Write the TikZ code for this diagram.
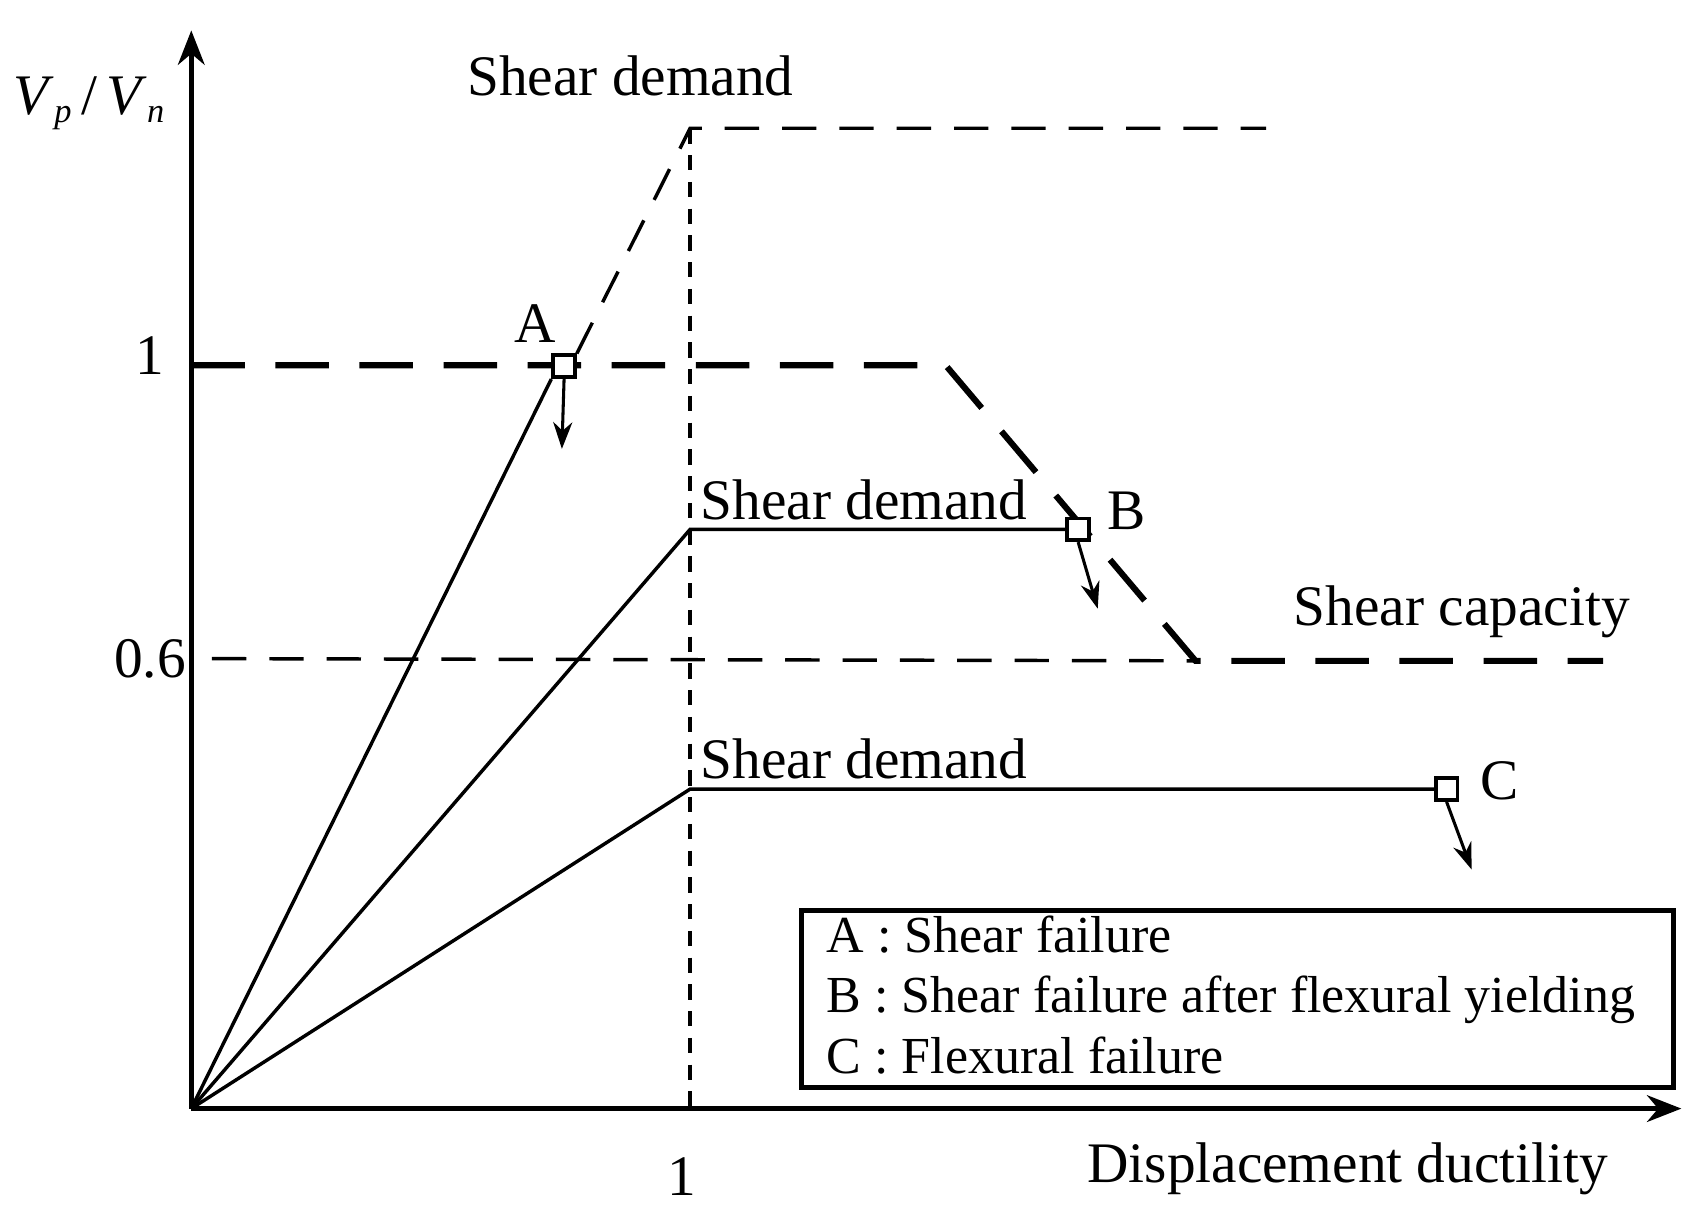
\documentclass[tikz,border=0pt]{standalone}
\usepackage{fontspec}
\setmainfont{Liberation Serif}
\usetikzlibrary{arrows.meta}
\begin{document}
\begin{tikzpicture}[x=0.01cm,y=-0.01cm,
 lbl/.style={font=\fontsize{15}{17}\selectfont,inner sep=0pt},
 leglbl/.style={font=\fontsize{13.6}{15}\selectfont,inner sep=0pt,anchor=base west},
 sq/.style={draw,fill=white,minimum size=0.2cm,inner sep=0pt,line width=1pt},
 ar/.style={-{Stealth[length=7pt,width=5pt]},line width=0.8pt},
 thin/.style={line width=0.9pt}]
\useasboundingbox (0,0) rectangle (1566,1117);
\coordinate (O) at (176,1020);
\coordinate (Ytop) at (176,28);
\coordinate (Xend) at (1547,1020);
\draw[line width=1.2pt,-{Stealth[length=9pt,width=7pt]}] (O) -- (Ytop);
\draw[line width=1.2pt,-{Stealth[length=9pt,width=7pt]}] (O) -- (Xend);
\node[lbl] (vp) at (82,95) {\textit{V}\raisebox{-0.3ex}{\small\textit{p}}\,/\,\textit{V}\raisebox{-0.3ex}{\small\textit{n}}};
\node[lbl] (y1) at (138,327) {1};
\node[lbl] (y06) at (138,606) {0.6};
\node[lbl] (x1) at (627,1083) {1};
\node[lbl] (xl) at (1240,1075) {Displacement ductility};
\coordinate (d1) at (635,118);
\coordinate (d0) at (635,1020);
\draw[thin,dash pattern=on 4pt off 3pt] (d1) -- (d0);
% capacity
\coordinate (c0) at (176,336); \coordinate (c1) at (870,336);
\coordinate (c2) at (1100,608); \coordinate (c3) at (1475,608);
\draw[line width=1.6pt,dash pattern=on 14pt off 8pt] (c0) -- (c1) -- (c2) -- (c3);
\coordinate (t0) at (195,606);
\draw[thin,dash pattern=on 9pt off 6pt] (t0) -- (c2);
\node[lbl] at (1345,563) {Shear capacity};
% demand A
\node[sq] (A) at (519,337) {};
\coordinate (ta) at (635,118); \coordinate (te) at (1165,118);
\draw[thin] (O) -- (A.south west);
\draw[thin,dash pattern=on 9pt off 6pt] (A.north east) -- (ta) -- (te);
\node[lbl] at (580,70) {Shear demand};
\node[lbl] at (492,298) {A};
\coordinate (aa) at (517,413);
\draw[ar] (A.south) -- (aa);
% demand B
\coordinate (b1) at (635,487);
\node[sq] (B) at (992,487) {};
\draw[thin] (O) -- (b1) -- (B.west);
\node[lbl] at (795,460) {Shear demand};
\node[lbl] at (1037,470) {B};
\coordinate (bb) at (1010,560);
\draw[ar] (B.south) -- (bb);
% demand C
\coordinate (cc1) at (635,726);
\node[sq] (C) at (1331,726) {};
\draw[thin] (O) -- (cc1) -- (C.west);
\node[lbl] at (795,698) {Shear demand};
\node[lbl] at (1380,718) {C};
\coordinate (cb) at (1354,800);
\draw[ar] (C.south) -- (cb);
% legend
\node[draw,line width=1.4pt,minimum width=8.02cm,minimum height=1.63cm,anchor=north west,inner sep=0pt] (leg) at (735,835) {};
\node[leglbl] at (760,876) {A : Shear failure};
\node[leglbl] at (760,932) {B : Shear failure after flexural yielding};
\node[leglbl] at (760,988) {C : Flexural failure};
\end{tikzpicture}
\end{document}
